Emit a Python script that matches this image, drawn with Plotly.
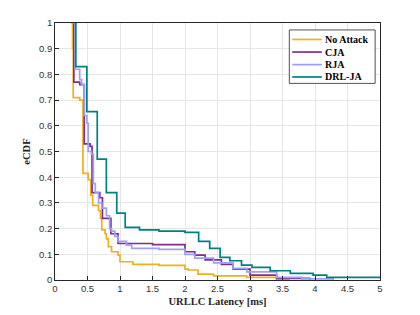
import plotly.graph_objects as go

# ---- data ----
noattack_x = [0.24, 0.27, 0.28, 0.38, 0.43, 0.51, 0.55, 0.58, 0.67, 0.70, 0.72, 0.77, 0.79, 0.82, 0.87, 0.97, 1.00, 1.20, 1.60, 2.00, 2.05, 2.20, 2.44, 2.95, 3.41, 3.60]
noattack_y = [1.00, 0.90, 0.71, 0.70, 0.415, 0.39, 0.33, 0.29, 0.27, 0.24, 0.195, 0.18, 0.16, 0.13, 0.11, 0.097, 0.071, 0.061, 0.057, 0.042, 0.039, 0.023, 0.016, 0.010, 0.003, 0.0]

cja_x = [0.27, 0.29, 0.38, 0.45, 0.54, 0.57, 0.69, 0.73, 0.86, 0.97, 1.50, 2.00, 2.15, 2.31, 2.56, 2.74, 3.00, 3.41, 3.92]
cja_y = [1.00, 0.77, 0.76, 0.53, 0.52, 0.34, 0.32, 0.24, 0.18, 0.142, 0.138, 0.11, 0.097, 0.078, 0.061, 0.042, 0.019, 0.006, 0.0]

rja_x = [0.27, 0.31, 0.38, 0.41, 0.45, 0.49, 0.51, 0.56, 0.59, 0.62, 0.67, 0.72, 0.79, 0.84, 0.87, 0.92, 0.97, 1.10, 1.18, 1.60, 2.00, 2.15, 2.44, 2.74, 2.95, 3.41, 3.80, 4.28]
rja_y = [1.00, 0.82, 0.78, 0.76, 0.64, 0.61, 0.50, 0.49, 0.375, 0.34, 0.30, 0.28, 0.25, 0.20, 0.19, 0.17, 0.15, 0.136, 0.123, 0.119, 0.100, 0.085, 0.067, 0.045, 0.032, 0.010, 0.004, 0.0]

drl_x = [0.30, 0.32, 0.49, 0.65, 0.79, 0.95, 1.08, 1.30, 1.60, 2.00, 2.21, 2.38, 2.54, 2.69, 2.87, 3.03, 3.31, 3.62, 3.97, 4.18, 5.00]
drl_y = [1.00, 0.83, 0.655, 0.47, 0.34, 0.26, 0.205, 0.195, 0.19, 0.185, 0.15, 0.123, 0.088, 0.075, 0.058, 0.049, 0.036, 0.026, 0.019, 0.010, 0.007]

series_names = ["No Attack", "CJA", "RJA", "DRL-JA"]
series_colors = ["#EDB120", "#7E2F8E", "#9E9EFF", "#008080"]

x_ticks = [0, 0.5, 1, 1.5, 2, 2.5, 3, 3.5, 4, 4.5, 5]
x_tick_labels = ["0", "0.5", "1", "1.5", "2", "2.5", "3", "3.5", "4", "4.5", "5"]
y_ticks = [0, 0.1, 0.2, 0.3, 0.4, 0.5, 0.6, 0.7, 0.8, 0.9, 1]
y_tick_labels = ["0", "0.1", "0.2", "0.3", "0.4", "0.5", "0.6", "0.7", "0.8", "0.9", "1"]

fig = go.Figure()
for xs, ys, name, color in zip([noattack_x, cja_x, rja_x, drl_x],
                                [noattack_y, cja_y, rja_y, drl_y],
                                series_names, series_colors):
    fig.add_trace(go.Scatter(x=xs, y=ys, mode="lines", name=name, showlegend=False,
                             line=dict(color=color, width=1.7, shape="hv")))

# ---- compact legend box (MATLAB style), in paper coordinates ----
leg_x0, leg_x1, leg_y0, leg_y1 = 0.721, 0.985, 0.765, 0.973
line_x0, line_x1, text_x = 0.730, 0.821, 0.824
entry_y = [0.936, 0.887, 0.838, 0.790]
fig.add_shape(type="rect", xref="paper", yref="paper", x0=leg_x0, x1=leg_x1, y0=leg_y0, y1=leg_y1,
              line=dict(color="#262626", width=0.8), fillcolor="white", layer="above")
for name, color, ey in zip(series_names, series_colors, entry_y):
    fig.add_shape(type="line", xref="paper", yref="paper", x0=line_x0, x1=line_x1, y0=ey, y1=ey,
                  line=dict(color=color, width=1.7), layer="above")
    fig.add_annotation(xref="paper", yref="paper", x=text_x, y=ey, text="<b>" + name + "</b>",
                       showarrow=False, xanchor="left", yanchor="middle",
                       font=dict(family="Liberation Serif, Times New Roman", size=10, color="black"))

axis_common = dict(showline=True, linecolor="#262626", linewidth=0.8, mirror=True,
                   showgrid=True, gridcolor="#E6E6E6", gridwidth=1,
                   ticks="inside", ticklen=4, tickcolor="#262626", zeroline=False,
                   automargin=False,
                   tickfont=dict(family="Liberation Sans, Arial", size=9.5, color="#333333"))

fig.update_xaxes(range=[0, 5], tickvals=x_ticks, ticktext=x_tick_labels,
                 title=dict(text="<b>URLLC Latency [ms]</b>", standoff=4,
                            font=dict(family="Liberation Serif, Times New Roman", size=10.5, color="#262626")),
                 **axis_common)
fig.update_yaxes(range=[0, 1], tickvals=y_ticks, ticktext=y_tick_labels,
                 title=dict(text="<b>eCDF</b>", standoff=6,
                            font=dict(family="Liberation Serif, Times New Roman", size=10.5, color="#262626")),
                 **axis_common)

fig.update_layout(
    width=420, height=315,
    margin=dict(l=47, r=48, t=15, b=43),
    plot_bgcolor="white", paper_bgcolor="white",
    showlegend=False,
)

fig.write_html("out.html")
